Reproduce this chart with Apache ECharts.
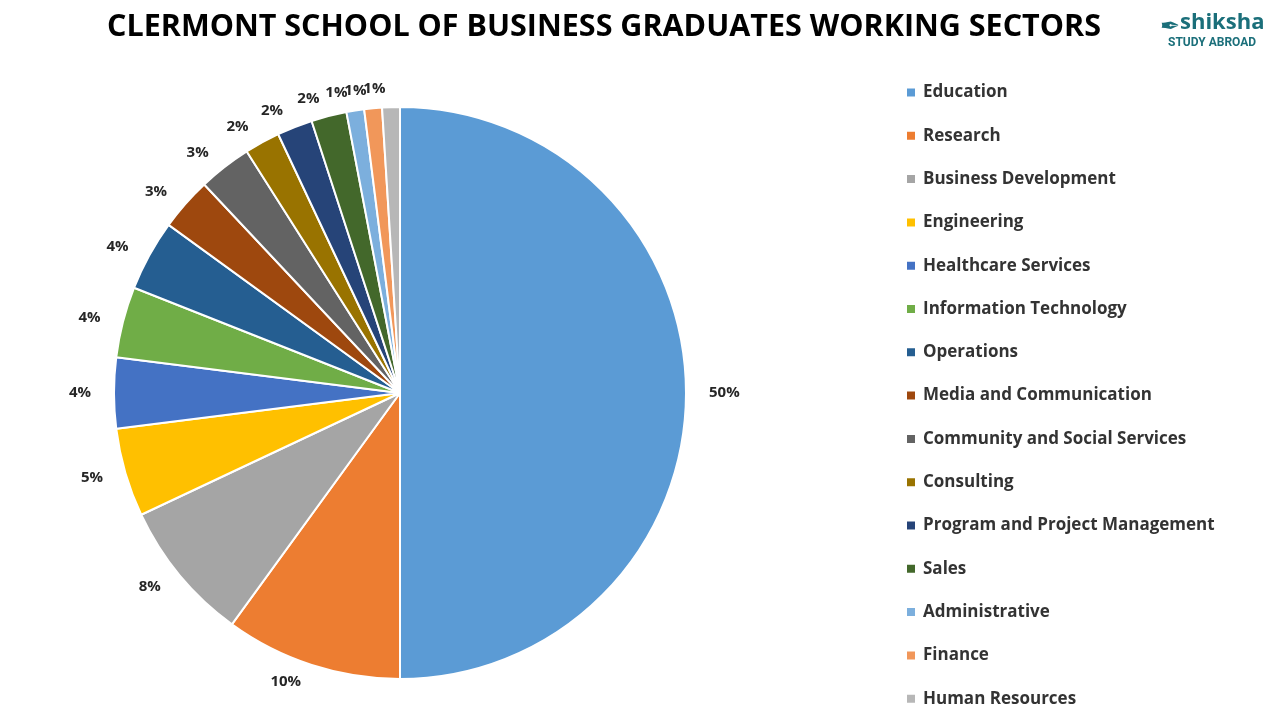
<!DOCTYPE html>
<html><head><meta charset="utf-8">
<script src="https://cdn.jsdelivr.net/npm/echarts@6/dist/echarts.min.js"></script>
<style>html,body{margin:0;background:#fff}#c{width:1280px;height:720px}</style>
</head><body><div id="c"></div>
<script>
const sectors = ["Education","Research","Business Development","Engineering","Healthcare Services","Information Technology","Operations","Media and Communication","Community and Social Services","Consulting","Program and Project Management","Sales","Administrative","Finance","Human Resources"];
const shares = [50,10,8,5,4,4,4,3,3,2,2,2,1,1,1];
const colors = ["#5B9BD5","#ED7D31","#A5A5A5","#FFC000","#4472C4","#70AD47","#255E91","#9E480E","#636363","#997300","#264478","#43682B","#7CAFDD","#F1975A","#B7B7B7"];

const chart = echarts.init(document.getElementById("c"));
chart.setOption({
  color: colors,
  title: {
    text: "CLERMONT SCHOOL OF BUSINESS GRADUATES WORKING SECTORS",
    left: 599, top: 7, textAlign: "center",
    textStyle: {fontFamily: "Open Sans", fontSize: 30.5, fontWeight: "bold", color: "#000"}
  },
  graphic: [
    {type: "text", left: 1180, top: 12, style: {text: "shiksha", font: "bold 22px Open Sans", fill: "#1b6f7a"}},
    {type: "text", left: 1168, top: 37, style: {text: "STUDY ABROAD", font: "bold 12px Roboto", fill: "#1b6f7a"}},
    {type: "text", left: 1160, top: 16, style: {text: "✒", font: "24px DejaVu Sans", fill: "#1b6f7a"}}
  ],
  legend: {
    orient: "vertical", left: 900, top: 79, itemGap: 26.3,
    itemWidth: 10, itemHeight: 10, icon: "rect",
    textStyle: {fontFamily: "Open Sans", fontSize: 17, fontWeight: "bold", color: "#333", padding: [0, 0, 0, 2]},
    data: sectors
  },
  series: [{
    type: "pie",
    center: [400, 393], radius: 286,
    startAngle: 90, clockwise: true,
    avoidLabelOverlap: false,
    labelLayout: {hideOverlap: false},
    itemStyle: {borderColor: "#fff", borderWidth: 2},
    label: {
      position: "outside", formatter: "{c}%",
      fontFamily: "Open Sans", fontSize: 15, fontWeight: "bold", color: "#262626"
    },
    labelLine: {show: false, length: 18, length2: 0},
    data: sectors.map((n, i) => ({name: n, value: shares[i]}))
  }]
});
</script></body></html>
